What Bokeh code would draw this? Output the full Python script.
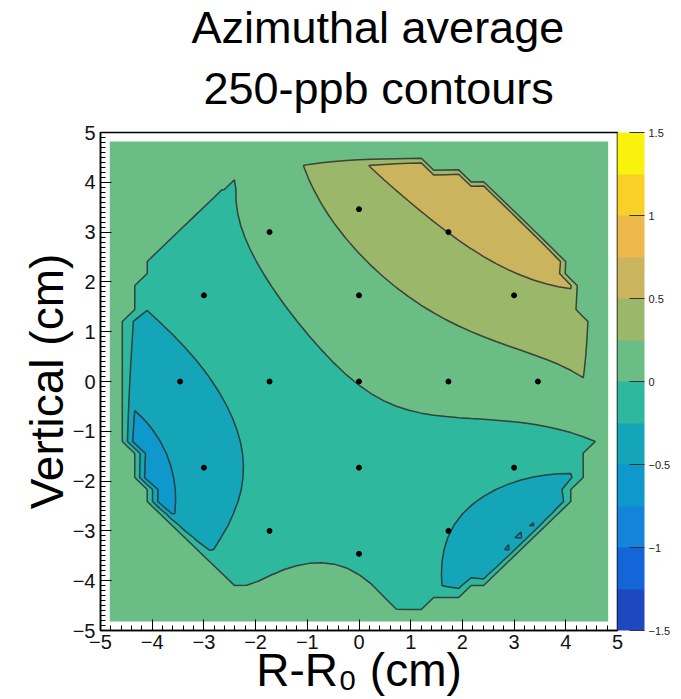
import numpy as np
from bokeh.plotting import figure
from bokeh.models import (ColorBar, LinearColorMapper, FixedTicker,
                          SingleIntervalTicker, Title, Range1d)
from bokeh.embed import file_html
from bokeh.resources import INLINE

# ---------------- data ----------------
# trolley probe positions (cm)
probe_x = [0.0, 1.73, 0.0, -1.73, 0.0, 3.46, 3.0, 1.73, 0.0, -1.73, -3.0, -3.46, -3.0, -1.73, 0.0, 1.73, 3.0]
probe_y = [0.0, 0.0, 1.73, 0.0, -1.73, 0.0, 1.73, 3.0, 3.46, 3.0, 1.73, 0.0, -1.73, -3.0, -3.46, -3.0, -1.73]
# field at the probes (ppm)
probe_field = [-0.02, 0.12, 0.12, -0.13, -0.10, 0.20, 0.38, 0.50, 0.40, 0.05,
               -0.15, -0.38, -0.45, -0.18, -0.03, -0.25, -0.20]
# field on the edge of the 4.5 cm storage region (ppm) vs azimuth (deg)
edge_angle_deg = [0, 15, 30, 45, 60, 75, 90, 105, 120, 135, 150, 165,
                  180, 195, 210, 225, 240, 255, 270, 285, 300, 315, 330, 345]
edge_field = [0.22, 0.42, 0.58, 0.70, 0.72, 0.62, 0.48, 0.25, 0.01, -0.08, -0.15, -0.30,
              -0.38, -0.56, -0.60, -0.28, -0.08, 0.14, 0.14, -0.20, -0.33, -0.60, -0.36, 0.00]
edge_radius = 4.5

# contour levels (ppm) - 250 ppb steps, and palette of the bands
levels = [-1.5, -1.25, -1.0, -0.75, -0.5, -0.25, 0.0, 0.25, 0.5, 0.75, 1.0, 1.25, 1.5]
band_colors = ["#1e48bf", "#1466d8", "#1384d9", "#0e98cc", "#15a5b8", "#2eb89d",
               "#6abd84", "#9bb86a", "#cbb45e", "#edb94a", "#f8d027", "#f9f20d"]
cbar_ticks = [-1.5, -1.0, -0.5, 0.0, 0.5, 1.0, 1.5]
cbar_labels = ["\u22121.5", "\u22121", "\u22120.5", "0", "0.5", "1", "1.5"]
axis_ticks = [-5, -4, -3, -2, -1, 0, 1, 2, 3, 4, 5]
axis_tick_labels = ["\u22125", "\u22124", "\u22123", "\u22122", "\u22121", "0", "1", "2", "3", "4", "5"]

# ---------------- multipole fit of the read values ----------------
nmax = 8
ex = edge_radius * np.cos(np.deg2rad(edge_angle_deg))
ey = edge_radius * np.sin(np.deg2rad(edge_angle_deg))
px_all = np.concatenate([np.array(probe_x), ex])
py_all = np.concatenate([np.array(probe_y), ey])
f_all = np.concatenate([np.array(probe_field), np.array(edge_field)])


def basis(x, y):
    r = np.hypot(x, y) / edge_radius
    t = np.arctan2(y, x)
    cols = [np.ones_like(r)]
    for n in range(1, nmax + 1):
        cols.append(r ** n * np.cos(n * t))
        cols.append(r ** n * np.sin(n * t))
    return np.stack(cols, axis=-1)


coef, *_ = np.linalg.lstsq(basis(px_all, py_all), f_all, rcond=None)

half = 4.82
gx = np.linspace(-half, half, 41)
gy = np.linspace(-half, half, 41)
GX, GY = np.meshgrid(gx, gy)
Z = basis(GX, GY) @ coef
Z = np.where(np.hypot(GX, GY) <= 4.55, Z, 1e-3)
Z = np.clip(Z, -1.49, 1.49)

# ---------------- figure ----------------
FONT = "Liberation Sans"
p = figure(width=681, height=699, title=None, toolbar_location=None,
           output_backend="svg", x_range=Range1d(-5, 5), y_range=Range1d(-5, 5),
           min_border_left=100, min_border_right=64, min_border_top=132,
           min_border_bottom=69)
p.xgrid.visible = False
p.ygrid.visible = False
p.background_fill_color = "white"
p.border_fill_color = "white"
p.outline_line_color = "black"
p.outline_line_width = 1.5

p.contour(gx, gy, Z, levels, fill_color=band_colors,
          line_color="#2a2a2a", line_width=1.5, line_alpha=0.85)
p.scatter(probe_x, probe_y, size=5, color="black")

for ax, nminor in ((p.xaxis[0], 5), (p.yaxis[0], 10)):
    ax.ticker = SingleIntervalTicker(interval=1, num_minor_ticks=nminor)
    ax.major_label_overrides = {t: l for t, l in zip(axis_ticks, axis_tick_labels)}
    ax.major_tick_in = 11
    ax.major_tick_out = 0
    ax.minor_tick_in = 5
    ax.minor_tick_out = 0
    ax.major_tick_line_color = "black"
    ax.minor_tick_line_color = "black"
    ax.axis_line_color = "black"
    ax.axis_line_width = 1.5
    ax.major_label_text_font = FONT
    ax.major_label_text_font_size = "20px"
    ax.major_label_text_color = "#111111"
    ax.axis_label_text_font = FONT
    ax.axis_label_text_font_style = "normal"
    ax.axis_label_text_color = "black"

p.xaxis.axis_label = "R-R\u2080 (cm)"
p.xaxis.axis_label_text_font_size = "46px"
p.xaxis.major_label_standoff = 4
p.xaxis.axis_label_standoff = -8
p.yaxis.axis_label = "Vertical (cm)"
p.yaxis.axis_label_text_font_size = "46px"
p.yaxis.major_label_standoff = 5
p.yaxis.axis_label_standoff = -3

mapper = LinearColorMapper(palette=band_colors, low=levels[0], high=levels[-1])
cbar = ColorBar(color_mapper=mapper, ticker=FixedTicker(ticks=cbar_ticks),
                major_label_overrides={t: l for t, l in zip(cbar_ticks, cbar_labels)},
                width=27, height=498, margin=4, padding=0, label_standoff=4,
                major_tick_in=15, major_tick_out=0, major_tick_line_color="#333333",
                major_label_text_font=FONT, major_label_text_font_size="11px",
                major_label_text_color="#222222",
                bar_line_color=None, border_line_color=None, background_fill_color=None)
p.add_layout(cbar, "right")

p.add_layout(Title(text="250-ppb contours", align="left", offset=103,
                   text_font=FONT, text_font_size="45px", text_font_style="normal",
                   text_color="black", standoff=38), "above")
p.add_layout(Title(text="Azimuthal average", align="left", offset=91,
                   text_font=FONT, text_font_size="45px", text_font_style="normal",
                   text_color="black", standoff=-22), "above")

open("out.html", "w").write(file_html(p, INLINE))
